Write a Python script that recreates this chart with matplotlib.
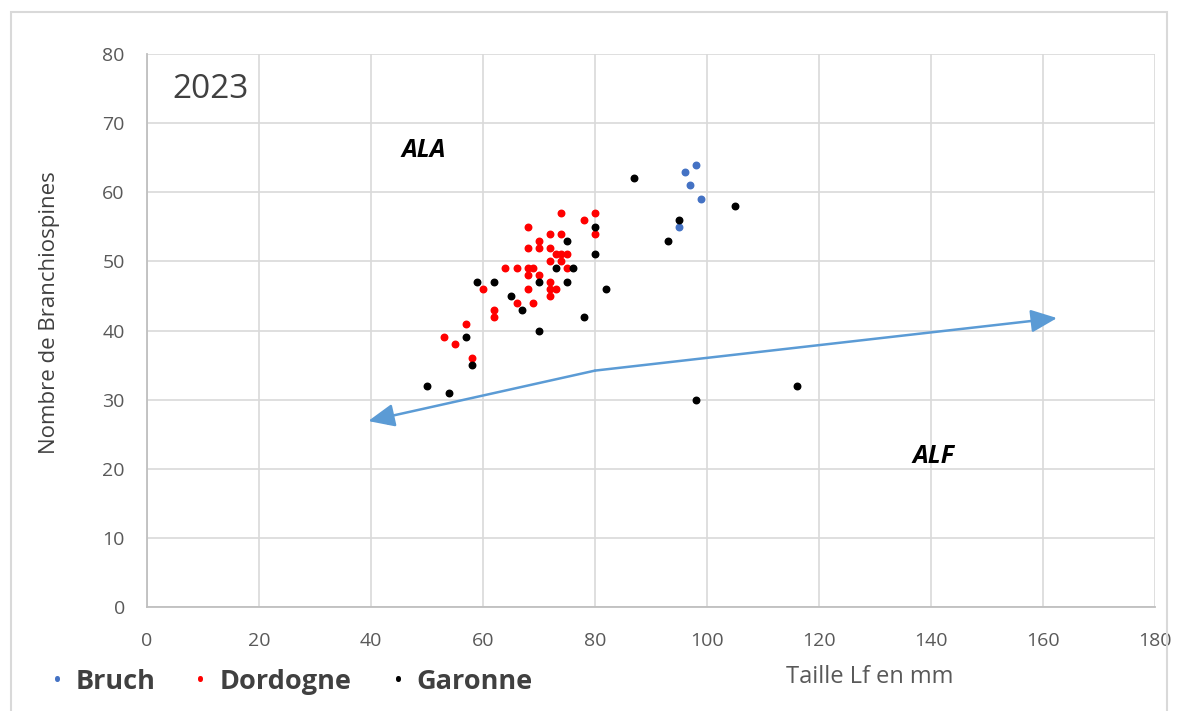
import matplotlib.pyplot as plt
from matplotlib.patches import Rectangle

plt.rcParams['font.family'] = ['Open Sans', 'DejaVu Sans']

# Bruch
bruch_x = [98, 96, 97, 99, 95]
bruch_y = [64, 63, 61, 59, 55]

# Dordogne
dord_x = [74, 80, 78, 68, 80, 72, 74, 70, 70, 68, 72, 73, 74, 75, 72, 74, 75, 64, 66,
          68, 69, 68, 70, 72, 72, 73, 68, 60, 72, 66, 69, 62, 62, 57, 53, 55, 58, 43]
dord_y = [57, 57, 56, 55, 54, 54, 54, 53, 52, 52, 52, 51, 51, 51, 50, 50, 49, 49, 49,
          49, 49, 48, 48, 47, 46, 46, 46, 46, 45, 44, 44, 43, 42, 41, 39, 38, 36, 27]

# Garonne
gar_x = [80, 75, 80, 73, 76, 70, 75, 59, 62, 65, 82, 67, 78, 70, 57, 58, 50, 54,
         87, 105, 95, 93, 98, 116]
gar_y = [55, 53, 51, 49, 49, 47, 47, 47, 47, 45, 46, 43, 42, 40, 39, 35, 32, 31,
         62, 58, 56, 53, 30, 32]

# arrow path (ALA / ALF separation)
sep_x = [39.5, 80, 162.5]
sep_y = [26.9, 34.2, 41.8]

fig = plt.figure(figsize=(11.78, 7.11), dpi=100)
fig.patches.append(Rectangle((0.009, -0.01), 0.982, 0.993, transform=fig.transFigure,
                             fill=False, edgecolor='#d9d9d9', linewidth=1.5))
ax = fig.add_axes([0.1248, 0.1463, 0.8557, 0.7777])

ax.scatter(bruch_x, bruch_y, s=22, color='#4472c4', zorder=3)
ax.scatter(dord_x, dord_y, s=22, color='#ff0000', zorder=3)
ax.scatter(gar_x, gar_y, s=22, color='#000000', zorder=3)

arrow_col = '#5b9bd5'
for i in (0, 2):
    ax.annotate('', xy=(sep_x[i], sep_y[i]), xytext=(sep_x[1], sep_y[1]),
                arrowprops=dict(arrowstyle='-|>,head_length=0.8,head_width=0.35',
                                color=arrow_col, lw=1.8, shrinkA=0, shrinkB=0,
                                mutation_scale=20), zorder=5)

ax.set_xlim(0, 180)
ax.set_ylim(0, 80)
ax.set_xticks(range(0, 181, 20))
ax.set_yticks(range(0, 81, 10))
ax.grid(True, color='#d9d9d9', lw=1.2)
ax.set_axisbelow(True)
for s in ['top', 'right']:
    ax.spines[s].set_visible(False)
ax.spines['bottom'].set_color('#bfbfbf')
ax.spines['left'].set_color('#bfbfbf')
ax.spines['bottom'].set_linewidth(1.3)
ax.spines['left'].set_linewidth(1.3)
ax.tick_params(length=0, labelsize=14, colors='#595959')
ax.tick_params(axis='x', pad=18)
ax.tick_params(axis='y', pad=16)

ax.text(11.3, 74.8, '2023', fontsize=24, color='#404040', ha='center', va='center')
ax.text(49.5, 66.0, 'ALA', fontsize=18, fontweight='bold', style='italic',
        ha='center', va='center')
ax.text(140.5, 21.8, 'ALF', fontsize=18, fontweight='bold', style='italic',
        ha='center', va='center')

fig.text(0.0424, 0.56, 'Nombre de Branchiospines', fontsize=16, color='#404040',
         rotation=90, ha='center', va='center')
fig.text(0.7385, 0.048, 'Taille Lf en mm', fontsize=17, color='#595959',
         ha='center', va='center')

# legend
leg_items = [('Bruch', '#4472c4', 0.0492, 0.0645),
             ('Dordogne', '#ff0000', 0.1698, 0.1868),
             ('Garonne', '#000000', 0.3379, 0.3531)]
for name, col, bx, tx in leg_items:
    fig.text(bx, 0.041, '\u2022', color=col, fontsize=17, ha='center', va='center')
    fig.text(tx, 0.041, name, color='#404040', fontsize=19.5,
             fontweight='bold', ha='left', va='center')

fig.savefig('out.png', dpi=100)
